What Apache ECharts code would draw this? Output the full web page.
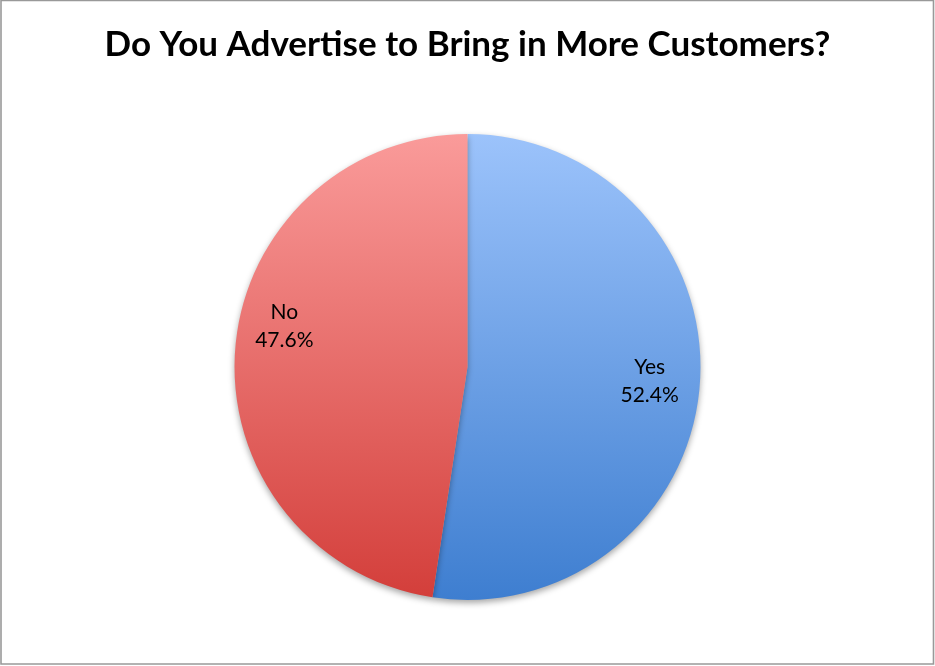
<!DOCTYPE html>
<html>
<head>
<meta charset="utf-8">
<script src="https://cdn.jsdelivr.net/npm/echarts@6/dist/echarts.min.js"></script>
<style>
html,body{margin:0;padding:0;background:#fff;}
#c{width:935px;height:666px;}
</style>
</head>
<body>
<div id="c"></div>
<script>
const titleText = 'Do You Advertise to Bring in More Customers?';
const categories = ['Yes', 'No'];
const values = [52.4, 47.6];
const topColors = ['#9CC3FB', '#FA9B9A'];
const bottomColors = ['#3E7ED0', '#D33E3A'];
const labelOffsets = [[63, 5], [-64, -32]];

const cx = 467.5, cy = 367, r = 233;

const chart = echarts.init(document.getElementById('c'), null, {renderer: 'canvas'});
chart.setOption({
  animation: false,
  backgroundColor: '#fff',
  title: {
    text: titleText,
    left: 'center',
    top: 22,
    textStyle: {fontFamily: 'Lato', fontWeight: 'bold', fontSize: 35, color: '#000'}
  },
  graphic: [{
    type: 'rect',
    shape: {x: 1, y: 0.5, width: 932.5, height: 663.5},
    style: {fill: 'none', stroke: '#999', lineWidth: 1.6},
    silent: true
  }],
  series: [{
    type: 'pie',
    center: [cx, cy],
    radius: [0, r],
    startAngle: 90,
    clockwise: true,
    label: {
      show: true,
      position: 'inside',
      formatter: p => p.name + '\n' + p.value.toFixed(1) + '%',
      fontFamily: 'Lato',
      fontSize: 21,
      lineHeight: 28,
      color: '#000'
    },
    labelLine: {show: false},
    emphasis: {disabled: true},
    data: categories.map((name, i) => ({
      name: name,
      value: values[i],
      label: {offset: labelOffsets[i]},
      itemStyle: {
        color: {
          type: 'linear', global: true,
          x: 0, y: cy - r, x2: 0, y2: cy + r,
          colorStops: [{offset: 0, color: topColors[i]}, {offset: 1, color: bottomColors[i]}]
        },
        shadowBlur: 6,
        shadowOffsetY: 3,
        shadowColor: 'rgba(0,0,0,0.35)'
      }
    }))
  }]
});
</script>
</body>
</html>
